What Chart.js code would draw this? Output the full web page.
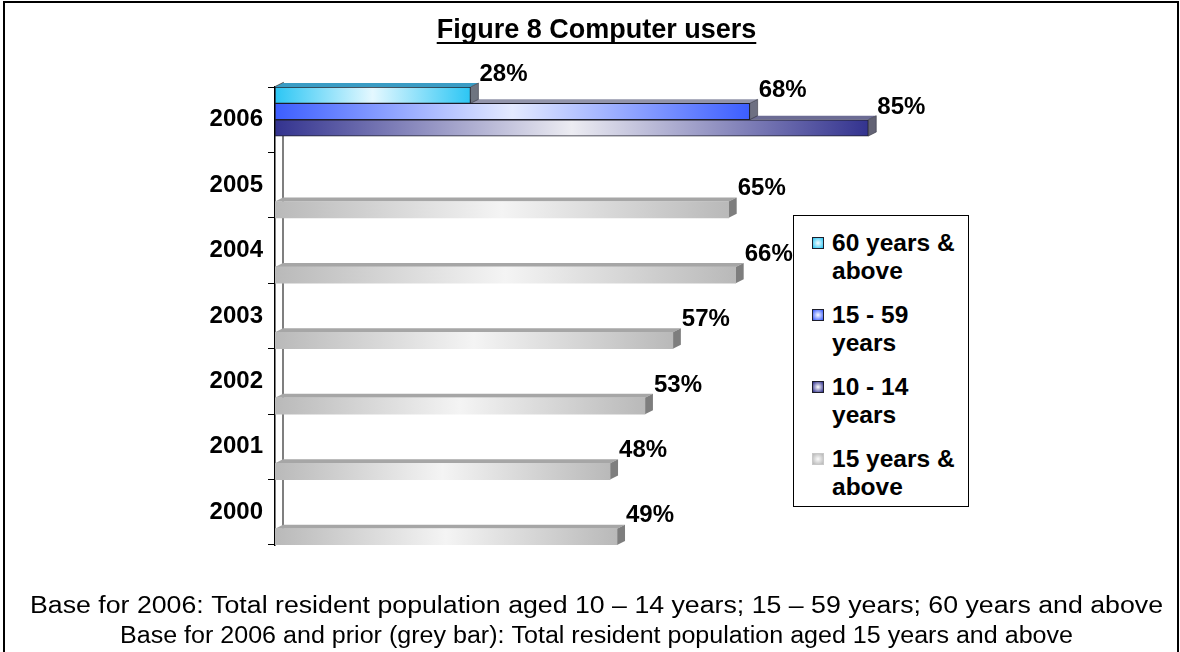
<!DOCTYPE html>
<html>
<head>
<meta charset="utf-8">
<title>Figure 8 Computer users</title>
<script src="https://cdn.jsdelivr.net/npm/chart.js@4.4.0/dist/chart.umd.min.js"></script>
<style>
    body { margin: 0; background: #fff; font-family: "Liberation Sans", Arial, sans-serif; }
    #frame { position: absolute; left: 3px; top: 1px; width: 1176px; height: 700px; border: 2px solid #000; box-sizing: border-box; }
    #wrap { position: absolute; left: 0; top: 0; width: 1180px; height: 652px; }
    #legend { position: absolute; left: 793px; top: 215px; width: 176px; height: 292px; box-sizing: border-box;
              border: 1px solid #000; background: #fff; padding-top: 13px; }
    .item { position: relative; padding-left: 38px; width: 134px; font-weight: bold; font-size: 24.5px; line-height: 28px; margin-bottom: 16px; }
    .swatch { position: absolute; left: 18px; top: 8px; width: 12px; height: 12px; box-sizing: border-box; }
</style>
</head>
<body>
<div id="frame"></div>
<div id="wrap"><canvas id="usersChart" width="1180" height="652"></canvas></div>
<div id="legend"></div>
<script>
    // Computer users by year, percent of population
    const years = ['2006', '2005', '2004', '2003', '2002', '2001', '2000'];
    const aged60Plus = [28, null, null, null, null, null, null];
    const aged15to59 = [68, null, null, null, null, null, null];
    const aged10to14 = [85, null, null, null, null, null, null];
    const aged15Plus = [null, 65, 66, 57, 53, 48, 49];
    const seriesNames = ['60 years & above', '15 - 59 years', '10 - 14 years', '15 years & above'];

    const footLines = [
        'Base for 2006: Total resident population aged 10 \u2013 14 years; 15 \u2013 59 years; 60 years and above',
        'Base for 2006 and prior (grey bar): Total resident population aged 15 years and above'
    ];
    // the footnote is set wide; each line is stretched to this width
    const footWidths = [1133, 953];

    // bar looks: front gradient edge/middle, top face, side face, outline
    const looks = [
        { edge: '#2CC6F4', mid: '#E4F8FF', top: '#3A9CC4', side: '#6E7480', line: '#1E1E2A' },
        { edge: '#3C5EFF', mid: '#E4EAFF', top: '#9294AA', side: '#6E7082', line: '#1E1E2A' },
        { edge: '#33338F', mid: '#ECECF2', top: '#6C6C94', side: '#626274', line: '#1E1E2A' },
        { edge: '#B9B9B9', mid: '#F4F4F4', top: '#A6A6A6', side: '#7E7E7E', line: null }
    ];
    const depthX = 8, depthY = 4;
    const FONT = '"Liberation Sans", Arial, sans-serif';

    function frontFill(c, look) {
        const chart = c.chart;
        if (!chart.chartArea || c.raw == null) return look.edge;
        const xs = chart.scales.x;
        const x0 = xs.getPixelForValue(0);
        const x1 = xs.getPixelForValue(c.raw);
        const g = chart.ctx.createLinearGradient(x0, 0, x1, 0);
        g.addColorStop(0, look.edge);
        g.addColorStop(0.5, look.mid);
        g.addColorStop(1, look.edge);
        return g;
    }

    function makeDataset(label, data, look) {
        return {
            label: label,
            data: data,
            backgroundColor: c => frontFill(c, look),
            borderColor: look.line || 'rgba(0,0,0,0)',
            borderWidth: look.line ? 1 : 0,
            borderSkipped: false,
            categoryPercentage: 1.0,
            barPercentage: 1.0
        };
    }

    // top and side faces of each bar, plus the back wall line
    const depthFaces = {
        id: 'depthFaces',
        beforeDatasetsDraw(chart) {
            const ctx = chart.ctx;
            const area = chart.chartArea;
            ctx.save();
            ctx.strokeStyle = '#555';
            ctx.lineWidth = 1.5;
            ctx.beginPath();
            ctx.moveTo(area.left, area.top);
            ctx.lineTo(area.left + depthX, area.top - depthY);
            ctx.lineTo(area.left + depthX, area.bottom - depthY);
            ctx.stroke();

            for (let d = chart.data.datasets.length - 1; d >= 0; d--) {
                const ds = chart.data.datasets[d];
                const look = looks[d];
                chart.getDatasetMeta(d).data.forEach((bar, i) => {
                    if (ds.data[i] == null) return;
                    const p = bar.getProps(['x', 'y', 'base', 'height'], true);
                    const top = p.y - p.height / 2;
                    const bottom = p.y + p.height / 2;
                    ctx.fillStyle = look.top;
                    ctx.beginPath();
                    ctx.moveTo(p.base, top);
                    ctx.lineTo(p.base + depthX, top - depthY);
                    ctx.lineTo(p.x + depthX, top - depthY);
                    ctx.lineTo(p.x, top);
                    ctx.closePath();
                    ctx.fill();
                    ctx.fillStyle = look.side;
                    ctx.beginPath();
                    ctx.moveTo(p.x, top);
                    ctx.lineTo(p.x + depthX, top - depthY);
                    ctx.lineTo(p.x + depthX, bottom - depthY);
                    ctx.lineTo(p.x, bottom);
                    ctx.closePath();
                    ctx.fill();
                    if (look.line) {
                        ctx.strokeStyle = 'rgba(30,30,42,0.6)';
                        ctx.lineWidth = 0.8;
                        ctx.stroke();
                    }
                });
            }
            ctx.restore();
        }
    };

    // percent labels above the bar ends, title and footnote
    const textLayer = {
        id: 'textLayer',
        afterDatasetsDraw(chart) {
            const ctx = chart.ctx;
            ctx.save();
            ctx.fillStyle = '#000';
            ctx.font = 'bold 24px ' + FONT;
            ctx.textAlign = 'left';
            ctx.textBaseline = 'middle';
            chart.data.datasets.forEach((ds, d) => {
                chart.getDatasetMeta(d).data.forEach((bar, i) => {
                    if (ds.data[i] == null) return;
                    ctx.fillText(ds.data[i] + '%', bar.x + 9, bar.y - 21);
                });
            });
            ctx.restore();
        },
        afterDraw(chart) {
            const ctx = chart.ctx;
            const cx = 596.5;
            ctx.save();
            ctx.fillStyle = '#000';
            ctx.textAlign = 'center';
            ctx.textBaseline = 'alphabetic';
            ctx.font = 'bold 27px ' + FONT;
            const title = 'Figure 8 Computer users';
            ctx.fillText(title, cx, 38);
            const w = ctx.measureText(title).width;
            ctx.fillRect(cx - w / 2, 42, w, 2);

            ctx.font = '23px ' + FONT;
            footLines.forEach((line, k) => {
                const sx = footWidths[k] / ctx.measureText(line).width;
                ctx.save();
                ctx.translate(cx, 613 + k * 30);
                ctx.scale(sx, 1);
                ctx.fillText(line, 0, 0);
                ctx.restore();
            });
            ctx.restore();
        }
    };

    const chart = new Chart(document.getElementById('usersChart').getContext('2d'), {
        type: 'bar',
        data: {
            labels: years,
            datasets: [
                makeDataset(seriesNames[0], aged60Plus, looks[0]),
                makeDataset(seriesNames[1], aged15to59, looks[1]),
                makeDataset(seriesNames[2], aged10to14, looks[2]),
                makeDataset(seriesNames[3], aged15Plus, looks[3])
            ]
        },
        options: {
            indexAxis: 'y',
            responsive: false,
            animation: false,
            layout: { padding: { top: 87, bottom: 107, left: 0, right: 207 } },
            plugins: {
                legend: { display: false },
                tooltip: { enabled: false }
            },
            scales: {
                x: { display: false, min: 0, max: 100 },
                y: {
                    afterFit(scale) { scale.width = 275; },
                    border: { display: true, color: '#000', width: 1.5 },
                    grid: { display: true, drawOnChartArea: false, drawTicks: true, tickLength: 7, color: '#000', offset: true },
                    ticks: { color: '#000', padding: 5, font: { family: FONT, size: 24, weight: 'bold' } }
                }
            }
        },
        plugins: [depthFaces, textLayer]
    });

    // legend built from the datasets
    const legendBox = document.getElementById('legend');
    chart.data.datasets.forEach((ds, d) => {
        const look = looks[d];
        const item = document.createElement('div');
        item.className = 'item';
        const sw = document.createElement('span');
        sw.className = 'swatch';
        sw.style.background = 'radial-gradient(circle, ' + look.mid + ' 10%, ' + look.edge + ' 95%)';
        sw.style.border = '1px solid ' + (look.line || '#C8C8C8');
        item.appendChild(sw);
        item.appendChild(document.createTextNode(ds.label));
        legendBox.appendChild(item);
    });
</script>
</body>
</html>
